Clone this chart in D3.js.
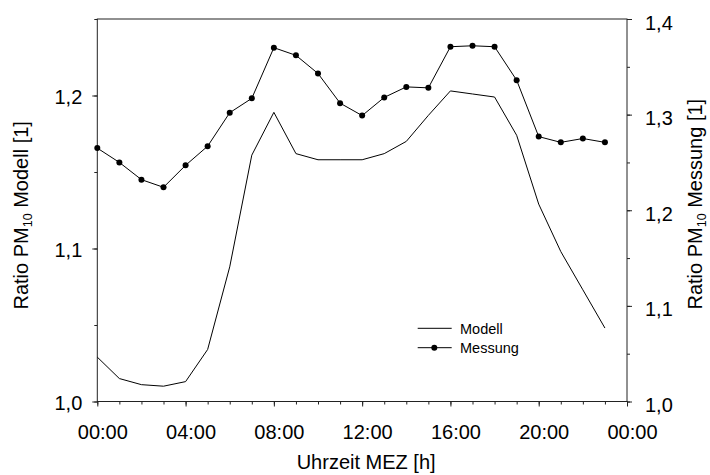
<!DOCTYPE html>
<html>
<head>
<meta charset="utf-8">
<script src="https://cdn.jsdelivr.net/npm/d3@7"></script>
<style>
  body { margin: 0; background: #fff; }
  text { font-family: "Liberation Sans", Arial, sans-serif; fill: #000; }
</style>
</head>
<body>
<div id="chart"></div>
<script>
// hours of the day (MEZ)
var hours = d3.range(0, 24);

// Modell ratio (left axis)
var modell = [1.029, 1.015, 1.011, 1.010, 1.013, 1.034, 1.088, 1.161, 1.189, 1.162,
              1.158, 1.158, 1.158, 1.162, 1.170, 1.187, 1.203, 1.201, 1.199, 1.174,
              1.129, 1.098, 1.073, 1.048];

// Messung ratio (right axis)
var messung = [1.265, 1.250, 1.232, 1.224, 1.247, 1.267, 1.302, 1.317, 1.370, 1.362,
               1.343, 1.312, 1.299, 1.318, 1.329, 1.328, 1.371, 1.372, 1.371, 1.336,
               1.277, 1.271, 1.275, 1.271];

var xTicks = [0, 4, 8, 12, 16, 20, 24];
var xTickLabels = ["00:00", "04:00", "08:00", "12:00", "16:00", "20:00", "00:00"];
var leftTicks = [1.0, 1.1, 1.2];
var rightTicks = [1.0, 1.1, 1.2, 1.3, 1.4];

var margin = {top: 19, right: 83, bottom: 73.5, left: 97.3},
    width = 710 - margin.left - margin.right,
    height = 475 - margin.top - margin.bottom;

var svg = d3.select("#chart")
  .append("svg")
    .attr("width", 710)
    .attr("height", 475)
  .append("g")
    .attr("transform", "translate(" + margin.left + "," + margin.top + ")");

var x = d3.scaleLinear().domain([0, 24]).range([0, width]);
var yL = d3.scaleLinear().domain([1.0, 1.25]).range([height, 0]);
var yR = d3.scaleLinear().domain([1.0, 1.4]).range([height, 0]);

var comma = function(d) { return d3.format(".1f")(d).replace(".", ","); };

// frame
svg.append("rect")
  .attr("width", width).attr("height", height)
  .attr("fill", "none").attr("stroke", "#222").attr("stroke-width", 1);

// minor ticks
var minor = function(axis) {
  return function(g) {
    g.call(axis);
    g.select(".domain").remove();
    g.selectAll("text").remove();
  };
};
svg.append("g").attr("transform", "translate(0," + height + ")")
  .call(minor(d3.axisBottom(x).tickValues(d3.range(0, 25)).tickSize(3)));
svg.append("g")
  .call(minor(d3.axisLeft(yL).tickValues(d3.range(1.0, 1.26, 0.05)).tickSize(3)));
svg.append("g").attr("transform", "translate(" + width + ",0)")
  .call(minor(d3.axisRight(yR).tickValues(d3.range(1.0, 1.41, 0.05)).tickSize(3)));

// major axes
var xAxis = svg.append("g")
  .attr("transform", "translate(0," + height + ")")
  .call(d3.axisBottom(x).tickValues(xTicks).tickSize(5).tickPadding(18)
    .tickFormat(function(d, i) { return xTickLabels[i]; }));
var lAxis = svg.append("g")
  .call(d3.axisLeft(yL).tickValues(leftTicks).tickSize(5).tickPadding(10).tickFormat(comma));
var rAxis = svg.append("g")
  .attr("transform", "translate(" + width + ",0)")
  .call(d3.axisRight(yR).tickValues(rightTicks).tickSize(5).tickPadding(13).tickFormat(comma));

[xAxis, lAxis, rAxis].forEach(function(a) {
  a.select(".domain").remove();
  a.selectAll("text").style("font-size", "20px").style("font-family", "Liberation Sans, Arial, sans-serif");
});
xAxis.selectAll("text").attr("dx", 5);
lAxis.selectAll("text").attr("dy", "0.4em");
rAxis.selectAll("text").attr("dy", "0.5em");
svg.selectAll(".tick line").attr("stroke", "#222");

// Modell line
var lineL = d3.line().x(function(d, i) { return x(hours[i]); }).y(function(d) { return yL(d); });
svg.append("path").datum(modell)
  .attr("d", lineL).attr("fill", "none").attr("stroke", "#000").attr("stroke-width", 1);

// Messung line + points
var lineR = d3.line().x(function(d, i) { return x(hours[i]); }).y(function(d) { return yR(d); });
svg.append("path").datum(messung)
  .attr("d", lineR).attr("fill", "none").attr("stroke", "#000").attr("stroke-width", 1);
svg.selectAll(".dot").data(messung).enter().append("circle")
  .attr("cx", function(d, i) { return x(hours[i]); })
  .attr("cy", function(d) { return yR(d); })
  .attr("r", 3).attr("fill", "#000");

// legend
var legend = svg.append("g").attr("transform", "translate(" + (417.7 - margin.left) + "," + (328.3 - margin.top) + ")");
legend.append("line").attr("x1", 0).attr("x2", 34).attr("y1", 0).attr("y2", 0).attr("stroke", "#000");
legend.append("text").attr("x", 42.3).attr("y", 5.7).style("font-size", "14.5px").text("Modell");
legend.append("line").attr("x1", 0).attr("x2", 34).attr("y1", 19.4).attr("y2", 19.4).attr("stroke", "#000");
legend.append("circle").attr("cx", 16.6).attr("cy", 19.4).attr("r", 3).attr("fill", "#000");
legend.append("text").attr("x", 42.3).attr("y", 25).style("font-size", "14.5px").text("Messung");

// x axis title
svg.append("text")
  .attr("x", width / 2 + 4).attr("y", 468.5 - margin.top)
  .style("text-anchor", "middle").style("font-size", "20px")
  .text("Uhrzeit MEZ [h]");

// left y title
var tl = svg.append("text")
  .attr("transform", "translate(" + (27.5 - margin.left) + "," + (309.5 - margin.top) + ") rotate(-90)")
  .style("text-anchor", "start").style("font-size", "20px");
tl.append("tspan").text("Ratio PM");
tl.append("tspan").attr("dy", 4).style("font-size", "12.5px").text("10");
tl.append("tspan").attr("dy", -4).text(" Modell [1]");

// right y title
var tr = svg.append("text")
  .attr("transform", "translate(" + (702 - margin.left) + "," + (309.5 - margin.top) + ") rotate(-90)")
  .style("text-anchor", "start").style("font-size", "20px");
tr.append("tspan").text("Ratio PM");
tr.append("tspan").attr("dy", 4).style("font-size", "12.5px").text("10");
tr.append("tspan").attr("dy", -4).text(" Messung [1]");
</script>
</body>
</html>
